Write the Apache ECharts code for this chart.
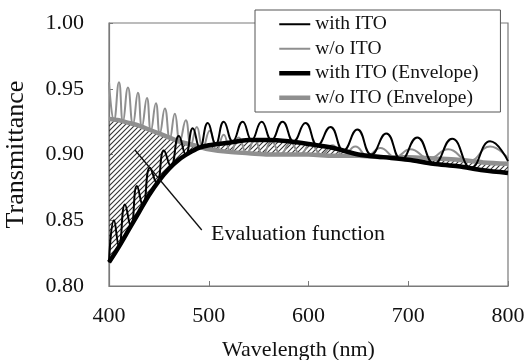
<!DOCTYPE html>
<html>
<head>
<meta charset="utf-8">
<script src="https://cdn.jsdelivr.net/npm/echarts@6/dist/echarts.min.js"></script>
<style>
html, body { margin: 0; padding: 0; background: #fff; }
#chart { width: 526px; height: 360px; }
</style>
</head>
<body>
<div id="chart"></div>
<script>
// envelope curves, sampled at these wavelengths (nm)
const envWl = [400, 410, 420, 430, 440, 450, 460, 470, 480, 490, 500, 520, 540, 560, 580, 600, 625, 650, 675, 700, 725, 750, 775, 800]
const envWithITO = [0.818, 0.830, 0.843, 0.856, 0.869, 0.880, 0.889, 0.896, 0.901, 0.905, 0.907, 0.909, 0.911, 0.911, 0.910, 0.908, 0.905, 0.900, 0.898, 0.896, 0.893, 0.891, 0.888, 0.886]
const envWoITO = [0.927, 0.926, 0.924, 0.922, 0.919, 0.916, 0.913, 0.910, 0.908, 0.906, 0.904, 0.902, 0.901, 0.900, 0.900, 0.900, 0.899, 0.899, 0.898, 0.898, 0.897, 0.896, 0.894, 0.893]

// measured spectra, [wavelength, transmittance] at peaks and valleys
const specWithITO = [
  [400, 0.818], [405, 0.850], [410, 0.830], [416, 0.862], [422, 0.845], [428, 0.876],
  [434, 0.861], [441, 0.890], [448, 0.878], [455, 0.903], [462, 0.891], [470, 0.914],
  [477, 0.900], [484, 0.920], [491, 0.905], [499, 0.924], [507, 0.908], [515, 0.925],
  [524, 0.910], [534, 0.925], [543, 0.911], [553, 0.925], [563, 0.911], [574, 0.925],
  [585, 0.910], [597, 0.924], [609, 0.907], [622, 0.921], [635, 0.903], [649, 0.919],
  [663, 0.900], [678, 0.916], [693, 0.896], [709, 0.913], [726, 0.893], [744, 0.912],
  [763, 0.890], [782, 0.910], [800, 0.895]
]
const specWoITO = [
  [400, 0.955], [405, 0.926], [410, 0.955], [414, 0.925], [419, 0.951], [424, 0.923],
  [429, 0.947], [433, 0.921], [438, 0.943], [442, 0.918], [447, 0.939], [451, 0.916],
  [456, 0.935], [461, 0.912], [466, 0.931], [471, 0.910], [477, 0.926], [482, 0.907],
  [488, 0.921], [494, 0.905], [501, 0.918], [508, 0.903], [515, 0.915], [522, 0.902],
  [530, 0.913], [538, 0.901], [546, 0.911], [554, 0.900], [563, 0.910], [572, 0.900],
  [582, 0.909], [592, 0.900], [602, 0.908], [613, 0.900], [624, 0.907], [635, 0.899],
  [647, 0.906], [659, 0.899], [672, 0.905], [687, 0.898], [702, 0.904], [721, 0.897],
  [740, 0.904], [761, 0.895], [782, 0.906], [800, 0.897]
]

const xTicks = [400, 500, 600, 700, 800]
const yTicks = [0.80, 0.85, 0.90, 0.95, 1.00]

const FONT = 'Liberation Serif'
const BLACK = '#000'
const GREY = '#8f8f8f'
const AXIS = '#7a7a7a'

// hatch tile for the area between the envelopes
function hatch () {
  const s = 5
  const c = document.createElement('canvas')
  c.width = s
  c.height = s
  const ctx = c.getContext('2d')
  ctx.strokeStyle = '#333'
  ctx.lineWidth = 1.1
  ctx.beginPath()
  ctx.moveTo(0, s); ctx.lineTo(s, 0)
  ctx.moveTo(-1, 1); ctx.lineTo(1, -1)
  ctx.moveTo(s - 1, s + 1); ctx.lineTo(s + 1, s - 1)
  ctx.stroke()
  return c
}
const hatchTile = hatch()

const pairs = (ys) => envWl.map((w, i) => [w, ys[i]])

// polygon between the two envelopes ("evaluation function")
function renderGap (params, api) {
  const top = envWl.map((w, i) => api.coord([w, Math.max(envWithITO[i], envWoITO[i])]))
  const bot = envWl.map((w, i) => api.coord([w, Math.min(envWithITO[i], envWoITO[i])])).reverse()
  return {
    type: 'polygon',
    shape: { points: top.concat(bot) },
    style: { fill: { image: hatchTile, repeat: 'repeat' }, stroke: null }
  }
}

const chart = echarts.init(document.getElementById('chart'))
const option = {
  animation: false,
  backgroundColor: '#fff',
  grid: {
    left: 109, right: 18, top: 23, bottom: 74,
    outerBoundsMode: 'none',
    containLabel: false,
    show: true, borderColor: AXIS, borderWidth: 1.2, backgroundColor: 'transparent'
  },
  legend: {
    orient: 'vertical',
    left: 255,
    top: 10,
    data: [
      { name: 'with ITO', lineStyle: { width: 2 } },
      { name: 'w/o ITO', lineStyle: { width: 2 } },
      { name: 'with ITO (Envelope)', lineStyle: { width: 4.5 } },
      { name: 'w/o ITO (Envelope)', lineStyle: { width: 4.5 } }
    ],
    itemWidth: 31,
    itemHeight: 14,
    itemGap: 4,
    padding: [4, 22, 4, 22],
    backgroundColor: '#fff',
    borderColor: '#555',
    borderWidth: 1,
    selectedMode: false,
    itemStyle: { opacity: 0 },
    textStyle: { fontFamily: FONT, fontSize: 19.5, color: '#111', lineHeight: 20.5 }
  },
  xAxis: {
    type: 'value',
    min: xTicks[0],
    max: xTicks[xTicks.length - 1],
    interval: 100,
    name: 'Wavelength (nm)',
    nameLocation: 'middle',
    nameGap: 53,
    nameTextStyle: { fontFamily: FONT, fontSize: 22, color: '#111', padding: [0, 20, 0, 0] },
    axisLine: { lineStyle: { color: AXIS, width: 1.2 } },
    axisTick: { inside: true, length: 5, lineStyle: { color: AXIS } },
    axisLabel: { fontFamily: FONT, fontSize: 22, color: '#111', margin: 19 },
    splitLine: { show: false }
  },
  yAxis: {
    type: 'value',
    min: yTicks[0],
    max: yTicks[yTicks.length - 1],
    interval: 0.05,
    name: 'Transmittance',
    nameLocation: 'middle',
    nameGap: 80,
    nameTextStyle: { fontFamily: FONT, fontSize: 26, color: '#111' },
    axisLine: { lineStyle: { color: AXIS, width: 1.2 } },
    axisTick: { inside: true, length: 4, lineStyle: { color: AXIS } },
    axisLabel: { fontFamily: FONT, fontSize: 22, color: '#111', margin: 25, formatter: v => v.toFixed(2) },
    splitLine: { show: false }
  },
  graphic: [{
    type: 'text',
    left: 211,
    top: 223,
    style: { text: 'Evaluation function', font: '22px "Liberation Serif"', fill: '#111' }
  }],
  series: [
    {
      name: 'evaluation',
      type: 'custom',
      renderItem: renderGap,
      data: [[envWl[0], envWoITO[0]]],
      clip: true,
      silent: true,
      z: 1
    },
    {
      name: 'w/o ITO (Envelope)',
      type: 'line',
      data: pairs(envWoITO),
      smooth: 0.3,
      symbol: 'none',
      color: GREY,
      lineStyle: { color: GREY, width: 4.5 }
    },
    {
      name: 'w/o ITO',
      type: 'line',
      data: specWoITO,
      smooth: 0.5,
      symbol: 'none',
      color: GREY,
      lineStyle: { color: GREY, width: 2 }
    },
    {
      name: 'with ITO (Envelope)',
      type: 'line',
      data: pairs(envWithITO),
      smooth: 0.3,
      symbol: 'none',
      color: BLACK,
      lineStyle: { color: BLACK, width: 4.5 }
    },
    {
      name: 'with ITO',
      type: 'line',
      data: specWithITO,
      smooth: 0.5,
      symbol: 'none',
      color: BLACK,
      lineStyle: { color: BLACK, width: 2 },
      markLine: {
        silent: true,
        symbol: ['none', 'none'],
        label: { show: false },
        lineStyle: { color: '#111', width: 1.3, type: 'solid' },
        data: [[{ coord: [426, 0.9034] }, { coord: [493, 0.8426] }]]
      }
    }
  ]
}
chart.setOption(option)
</script>
</body>
</html>
